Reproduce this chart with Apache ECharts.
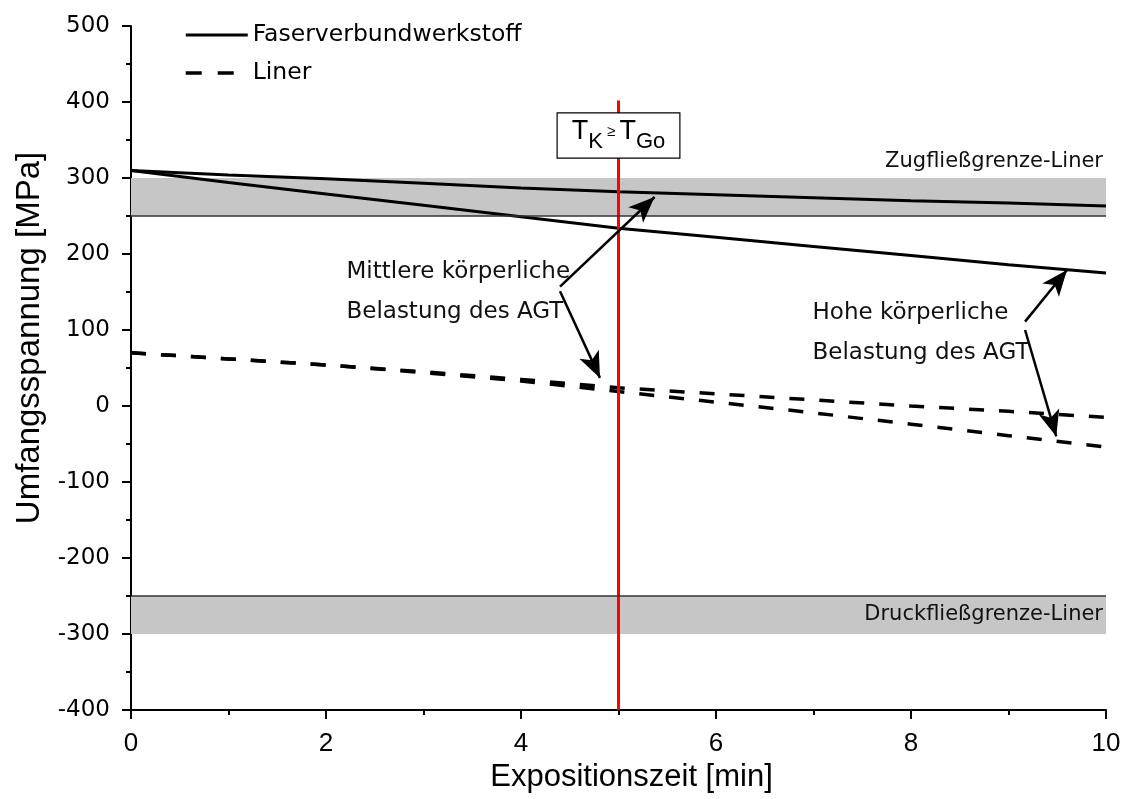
<!DOCTYPE html>
<html>
<head>
<meta charset="utf-8">
<script src="https://cdn.jsdelivr.net/npm/echarts@6/dist/echarts.min.js"></script>
<style>html,body{margin:0;padding:0;background:#fff}#c{width:1131px;height:799px}</style>
</head>
<body>
<div id="c"></div>
<script>
// ---- data ----
const times = [0,1,2,3,4,5,6,7,8,9,10];
const faserMittel = [310,304,299,293,287,282,278,274,270,267,263];
const faserHoch   = [310,294,279,264,249,234,222,210,198,186,175];
const linerMittel = [70,62,54,45,35,24,16,8,0,-7,-15];
const linerHoch   = [70,62,54,44,33,19,5,-9,-24,-39,-54];
const zugBand = [250,300];
const druckBand = [-300,-250];
const tKTime = 5;
const redLineRange = [-400,402];
const xTicks = {min:0,max:10,interval:2};
const yTicks = {min:-400,max:500,interval:100};
// annotation text anchors [x,y,text] and arrows [[fromX,fromY],[toX,toY]]
const textMittel = [[2.21,176,'Mittlere körperliche'],[2.21,124,'Belastung des AGT']];
const textHoch = [[6.99,122,'Hohe körperliche'],[6.99,70,'Belastung des AGT']];
const arrows = [
  [[4.40,157],[5.37,275]],
  [[4.40,151],[4.81,37]],
  [[9.17,111],[9.60,179]],
  [[9.17,100],[9.49,-40]]
];
const boxPos = [5,356];
const zugLabel = [10,322,'Zugfließgrenze-Liner'];
const druckLabel = [10,-274,'Druckfließgrenze-Liner'];

const pair = (xs, ys) => xs.map((x,i)=>[x, ys[i]]);
const F = 'DejaVu Sans, Liberation Sans, sans-serif';
const FA = 'Liberation Sans, Arial, sans-serif';

const chart = echarts.init(document.getElementById('c'), null, {renderer:'canvas'});
const solid = {color:'#000', width:3, type:'solid'};
const dashed = {color:'#000', width:3.5, type:[15,15]};

const option = {
  animation:false,
  backgroundColor:'#fff',
  grid:{left:131,right:25,top:26,bottom:89,containLabel:false},
  legend:{
    left:179, top:18, orient:'vertical', itemWidth:62, itemHeight:14, itemGap:14,
    itemStyle:{opacity:0},
    textStyle:{fontFamily:F,fontSize:23.5,color:'#000'},
    data:[
      {name:'Faserverbundwerkstoff', lineStyle:{width:3,type:'solid',color:'#000'}},
      {name:'Liner', lineStyle:{width:3.5,type:[16,16],color:'#000'}}
    ]
  },
  xAxis:{
    type:'value', min:xTicks.min, max:xTicks.max, interval:xTicks.interval,
    name:'Expositionszeit [min]', nameLocation:'middle', nameGap:47,
    nameTextStyle:{fontFamily:FA,fontSize:31,color:'#000',padding:[0,0,0,26]},
    axisLine:{show:true,onZero:false,lineStyle:{color:'#000',width:2}},
    axisTick:{show:true,inside:false,length:9,lineStyle:{color:'#000',width:2}},
    minorTick:{show:true,splitNumber:2,length:5,lineStyle:{color:'#000',width:2}},
    splitLine:{show:false},
    axisLabel:{fontFamily:FA,fontSize:26,color:'#000',margin:21}
  },
  yAxis:{
    type:'value', min:yTicks.min, max:yTicks.max, interval:yTicks.interval,
    name:'Umfangsspannung [MPa]', nameLocation:'middle', nameGap:84,
    nameTextStyle:{fontFamily:FA,fontSize:33,color:'#000',padding:[0,0,0,60]},
    axisLine:{show:true,onZero:false,lineStyle:{color:'#000',width:2}},
    axisTick:{show:true,inside:false,length:9,lineStyle:{color:'#000',width:2}},
    minorTick:{show:true,splitNumber:2,length:5,lineStyle:{color:'#000',width:2}},
    splitLine:{show:false},
    axisLabel:{fontFamily:F,fontSize:23,color:'#000',margin:21}
  },
  series:[
    {
      name:'bands', type:'line', data:[], silent:true, z:1,
      markArea:{silent:true, itemStyle:{color:'#c6c6c6'},
        data:[
          [{coord:[xTicks.min,zugBand[0]]},{coord:[xTicks.max,zugBand[1]]}],
          [{coord:[xTicks.min,druckBand[0]]},{coord:[xTicks.max,druckBand[1]]}]
        ]},
      markLine:{silent:true, symbol:'none', label:{show:false},
        lineStyle:{color:'#333',width:1.5,type:'solid'},
        data:[
          [{coord:[xTicks.min,zugBand[0]]},{coord:[xTicks.max,zugBand[0]]}],
          [{coord:[xTicks.min,druckBand[1]]},{coord:[xTicks.max,druckBand[1]]}]
        ]},
      markPoint:{silent:true, symbol:'circle', symbolSize:0,
        label:{show:true,fontFamily:F,fontSize:21,color:'#111',position:'inside',align:'right',verticalAlign:'middle'},
        data:[
          {coord:[zugLabel[0],zugLabel[1]], label:{formatter:zugLabel[2], offset:[-3,0]}},
          {coord:[druckLabel[0],druckLabel[1]], label:{formatter:druckLabel[2], offset:[-3,0]}}
        ]}
    },
    {name:'Faserverbundwerkstoff', type:'line', data:pair(times,faserMittel), showSymbol:false, symbol:'none', lineStyle:solid, itemStyle:{color:'#000'}, z:3},
    {name:'Faserverbundwerkstoff', type:'line', data:pair(times,faserHoch), showSymbol:false, symbol:'none', lineStyle:solid, itemStyle:{color:'#000'}, z:3},
    {name:'Liner', type:'line', data:pair(times,linerMittel), showSymbol:false, symbol:'none', lineStyle:dashed, itemStyle:{color:'#000'}, z:3},
    {name:'Liner', type:'line', data:pair(times,linerHoch), showSymbol:false, symbol:'none', lineStyle:dashed, itemStyle:{color:'#000'}, z:3},
    {
      name:'tk', type:'line', data:[[tKTime,redLineRange[0]],[tKTime,redLineRange[1]]],
      showSymbol:false, symbol:'none', lineStyle:{color:'#ff0000',width:3}, z:4,
      markPoint:{silent:true, symbol:'circle', symbolSize:0, z:6,
        label:{show:true, position:'inside', backgroundColor:'#fff', borderColor:'#000', borderWidth:1.2,
          padding:[5,14,5,14],
          formatter:'{t|T}{s|K}{g| ≥ }{t|T}{s|Go}',
          rich:{
            t:{fontFamily:FA,fontSize:27,color:'#000',verticalAlign:'top',lineHeight:34},
            s:{fontFamily:FA,fontSize:22,color:'#000',verticalAlign:'bottom',lineHeight:34,padding:[10,0,0,0]},
            g:{fontFamily:FA,fontSize:15,color:'#000',verticalAlign:'top',lineHeight:34,padding:[6,0,0,0]}
          }},
        data:[{coord:boxPos}]}
    },
    {
      name:'annot', type:'line', data:[], silent:true, z:5,
      markLine:{silent:true, symbol:['none','arrow'], symbolSize:[16,26], label:{show:false},
        lineStyle:{color:'#000',width:2.5,type:'solid'},
        data:arrows.map(a=>[{coord:a[0]},{coord:a[1]}])},
      markPoint:{silent:true, symbol:'circle', symbolSize:0,
        label:{show:true,fontFamily:F,fontSize:23,color:'#111',position:'inside',align:'left',verticalAlign:'middle'},
        data:textMittel.concat(textHoch).map(t=>({coord:[t[0],t[1]], label:{formatter:t[2]}}))}
    }
  ]
};
chart.setOption(option);
</script>
</body>
</html>
